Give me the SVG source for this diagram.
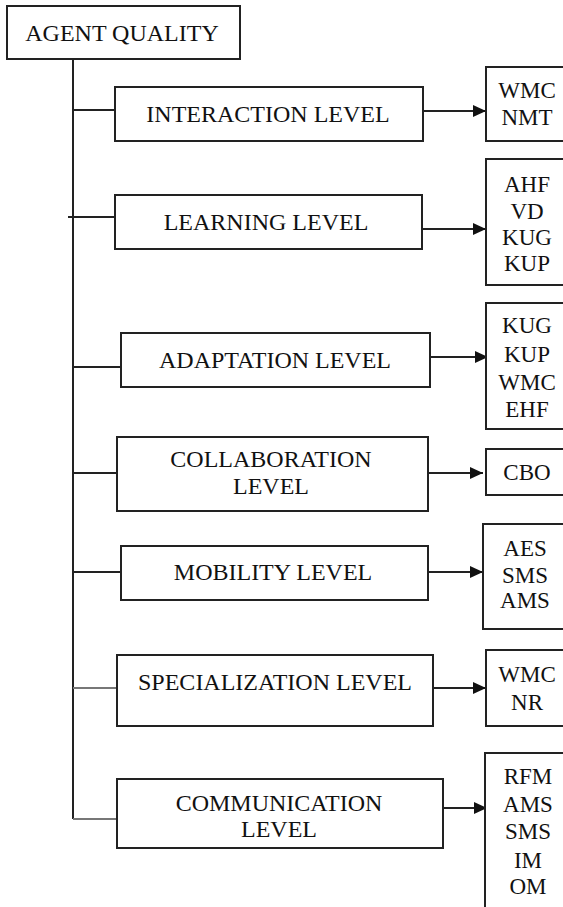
<svg xmlns="http://www.w3.org/2000/svg" width="563" height="907" viewBox="0 0 563 907">
<style>
.box{fill:#fff;stroke:#222;stroke-width:2}
.t{font-family:'Liberation Serif','DejaVu Serif',serif;font-size:24px;fill:#111;text-anchor:middle}
.m{font-family:'Liberation Serif','DejaVu Serif',serif;font-size:23px;fill:#111;text-anchor:middle}
.ln{stroke:#222;stroke-width:2;fill:none}
.lg{stroke:#777;stroke-width:2;fill:none}
</style>
<defs>
<marker id="ah" markerUnits="userSpaceOnUse" markerWidth="14" markerHeight="12" refX="13" refY="6" orient="auto">
<path d="M0,0 L13,6 L0,12 Z" fill="#111"/>
</marker>
</defs>
<rect width="563" height="907" fill="#fff"/>
<g id="connectors">
<path class="ln" d="M73,59 V819"/>
<path class="lg" d="M73,819 H116"/>
<path class="ln" d="M73,110 H115"/>
<path class="ln" d="M68,217 H114"/>
<path class="ln" d="M73,367 H120"/>
<path class="ln" d="M73,473 H117"/>
<path class="ln" d="M73,572 H120"/>
<path class="lg" d="M73,688 H117"/>
<path class="ln" d="M423,111 H486" marker-end="url(#ah)"/>
<path class="ln" d="M422,229 H486" marker-end="url(#ah)"/>
<path class="ln" d="M428,357 H488" marker-end="url(#ah)"/>
<path class="ln" d="M428,473 H483" marker-end="url(#ah)"/>
<path class="ln" d="M428,572 H483" marker-end="url(#ah)"/>
<path class="ln" d="M433,688 H486" marker-end="url(#ah)"/>
<path class="ln" d="M443,808 H487" marker-end="url(#ah)"/>
</g>
<g id="agent-quality"><rect class="box" x="7" y="6" width="233" height="53"/><text class="t" x="122" y="41">AGENT QUALITY</text></g>
<g id="interaction"><rect class="box" x="115" y="87" width="308" height="54"/><text class="t" x="268" y="122">INTERACTION LEVEL</text></g>
<g id="learning"><rect class="box" x="115" y="195" width="307" height="54"/><text class="t" x="266" y="230">LEARNING LEVEL</text></g>
<g id="adaptation"><rect class="box" x="121" y="333" width="309" height="54"/><text class="t" x="275" y="368">ADAPTATION LEVEL</text></g>
<g id="collaboration"><rect class="box" x="117" y="437" width="311" height="74"/><text class="t" x="271" y="467">COLLABORATION</text><text class="t" x="271" y="494">LEVEL</text></g>
<g id="mobility"><rect class="box" x="121" y="546" width="307" height="54"/><text class="t" x="273" y="580">MOBILITY LEVEL</text></g>
<g id="specialization"><rect class="box" x="117" y="655" width="316" height="71"/><text class="t" x="275" y="690">SPECIALIZATION LEVEL</text></g>
<g id="communication"><rect class="box" x="117" y="779" width="326" height="69"/><text class="t" x="279" y="811">COMMUNICATION</text><text class="t" x="279" y="837">LEVEL</text></g>
<g id="m-interaction"><rect class="box" x="486" y="67" width="80" height="74"/><text class="m" x="527" y="98">WMC</text><text class="m" x="527" y="125">NMT</text></g>
<g id="m-learning"><rect class="box" x="486" y="159" width="80" height="126"/><text class="m" x="527" y="192">AHF</text><text class="m" x="527" y="219">VD</text><text class="m" x="527" y="245">KUG</text><text class="m" x="527" y="271">KUP</text></g>
<g id="m-adaptation"><rect class="box" x="486" y="303" width="80" height="126"/><text class="m" x="527" y="333">KUG</text><text class="m" x="527" y="362">KUP</text><text class="m" x="527" y="390">WMC</text><text class="m" x="527" y="417">EHF</text></g>
<g id="m-collaboration"><rect class="box" x="486" y="449" width="80" height="46"/><text class="m" x="527" y="480">CBO</text></g>
<g id="m-mobility"><rect class="box" x="483" y="524" width="83" height="105"/><text class="m" x="525" y="556">AES</text><text class="m" x="525" y="583">SMS</text><text class="m" x="525" y="608">AMS</text></g>
<g id="m-specialization"><rect class="box" x="486" y="650" width="80" height="76"/><text class="m" x="527" y="682">WMC</text><text class="m" x="527" y="710">NR</text></g>
<g id="m-communication"><rect class="box" x="485" y="753" width="81" height="160"/><text class="m" x="528" y="784">RFM</text><text class="m" x="528" y="812">AMS</text><text class="m" x="528" y="839">SMS</text><text class="m" x="528" y="868">IM</text><text class="m" x="528" y="894">OM</text></g>
</svg>
